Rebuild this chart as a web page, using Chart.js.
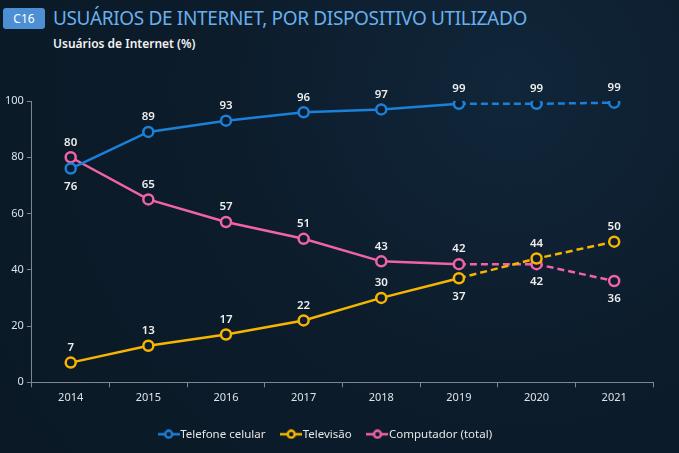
<!DOCTYPE html>
<html>
<head>
<meta charset="utf-8">
<script src="https://cdn.jsdelivr.net/npm/chart.js@4.4.0/dist/chart.umd.min.js"></script>
<style>
    html, body { margin: 0; padding: 0; }
    body {
        width: 679px; height: 453px; overflow: hidden; position: relative;
        background: radial-gradient(circle at 75% 20%, #11263a 0%, #0c1c2b 45%, #0a1925 100%);
        font-family: "Noto Sans", "Open Sans", sans-serif;
    }
    #badge {
        position: absolute; left: 3px; top: 8px; width: 42px; height: 21px;
        background: #4d8fd3; border-radius: 3px; color: #fff;
        font-size: 12px; line-height: 21px; text-align: center;
    }
    #title {
        position: absolute; left: 53px; top: 5px; color: #69b0ee;
        font-size: 19px; letter-spacing: -0.35px; white-space: nowrap;
    }
    #subtitle {
        position: absolute; left: 53px; top: 35px; color: #f2f2f2;
        font-size: 12px; font-weight: 600;
    }
    #wrap { position: absolute; left: 0; top: 0; width: 679px; height: 453px; }
</style>
</head>
<body>
<div id="badge">C16</div>
<div id="title">USUÁRIOS DE INTERNET, POR DISPOSITIVO UTILIZADO</div>
<div id="subtitle">Usuários de Internet (%)</div>
<div id="wrap"><canvas id="chart"></canvas></div>
<script>
// Data
const years = ['2014', '2015', '2016', '2017', '2018', '2019', '2020', '2021'];
const celular = [76, 89, 93, 96, 97, 99, 99, 99.4];
const televisao = [7, 13, 17, 22, 30, 37, 44, 50];
const computador = [80, 65, 57, 51, 43, 42, 42, 36];
const yTicks = [0, 20, 40, 60, 80, 100];

// Which side each value label goes on
const celularSide = ['below', 'above', 'above', 'above', 'above', 'above', 'above', 'above'];
const televisaoSide = ['above', 'above', 'above', 'above', 'above', 'below', 'above', 'above'];
const computadorSide = ['above', 'above', 'above', 'above', 'above', 'above', 'below', 'below'];

const DASH_FROM = 5; // segments after 2019 are dashed
const BLUE = '#1a80d9';
const AMBER = '#f7b500';
const PINK = '#f063a9';
const BG = '#0c1c2b';

// Legend marker: line with hollow circle
function legendMarker(color) {
    const c = document.createElement('canvas');
    c.width = 22; c.height = 10;
    const g = c.getContext('2d');
    g.strokeStyle = color;
    g.lineWidth = 2.5;
    g.beginPath(); g.moveTo(0, 5); g.lineTo(22, 5); g.stroke();
    g.fillStyle = BG;
    g.beginPath(); g.arc(11, 5, 3.5, 0, Math.PI * 2); g.fill(); g.stroke();
    return c;
}

function makeDataset(label, data, color, sides) {
    return {
        label: label,
        data: data,
        sides: sides,
        borderColor: color,
        backgroundColor: BG,
        borderWidth: 2.5,
        pointRadius: 5,
        pointBorderWidth: 2.5,
        pointBackgroundColor: BG,
        pointBorderColor: color,
        legendMarker: legendMarker(color),
        tension: 0,
        segment: {
            borderDash: ctx => ctx.p0DataIndex >= DASH_FROM ? [7, 4] : undefined
        }
    };
}

// Value labels plugin
const valueLabels = {
    id: 'valueLabels',
    afterDatasetsDraw(chart) {
        const ctx = chart.ctx;
        ctx.save();
        ctx.font = '600 11.5px "Noto Sans", sans-serif';
        ctx.fillStyle = '#eeeeee';
        ctx.textAlign = 'center';
        ctx.textBaseline = 'middle';
        chart.data.datasets.forEach((ds, i) => {
            const meta = chart.getDatasetMeta(i);
            meta.data.forEach((pt, j) => {
                const dy = ds.sides[j] === 'below' ? 18 : -15;
                ctx.fillText(Math.round(ds.data[j]), pt.x, pt.y + dy);
            });
        });
        ctx.restore();
    }
};

const chart = new Chart(document.getElementById('chart'), {
    type: 'line',
    data: {
        labels: years,
        datasets: [
            makeDataset('Telefone celular', celular, BLUE, celularSide),
            makeDataset('Televisão', televisao, AMBER, televisaoSide),
            makeDataset('Computador (total)', computador, PINK, computadorSide)
        ]
    },
    options: {
        responsive: true,
        maintainAspectRatio: false,
        animation: false,
        layout: { padding: { top: 101, right: 26, left: 2, bottom: 3 } },
        plugins: {
            tooltip: { enabled: false },
            legend: {
                position: 'bottom',
                labels: {
                    usePointStyle: true,
                    color: '#e6e6e6',
                    font: { size: 11.5, family: '"Noto Sans", sans-serif' },
                    padding: 20,
                    boxHeight: 10,
                    generateLabels: chart => chart.data.datasets.map((ds, i) => ({
                        text: ds.label,
                        pointStyle: ds.legendMarker,
                        fontColor: '#e6e6e6',
                        datasetIndex: i,
                        hidden: false,
                        lineWidth: 0
                    }))
                }
            }
        },
        scales: {
            x: {
                offset: true,
                grid: { drawOnChartArea: false, drawTicks: true, tickLength: 5, color: '#7c8791', offset: true },
                border: { color: '#7c8791' },
                ticks: { color: '#dde3e8', font: { size: 11, family: '"Noto Sans", sans-serif' }, padding: 4 }
            },
            y: {
                min: 0,
                max: 100,
                afterBuildTicks: axis => { axis.ticks = yTicks.map(v => ({ value: v })); },
                grid: { drawOnChartArea: false, drawTicks: true, tickLength: 5, color: '#7c8791' },
                border: { color: '#7c8791' },
                ticks: { color: '#dde3e8', font: { size: 11, family: '"Noto Sans", sans-serif' }, padding: 3 }
            }
        }
    },
    plugins: [valueLabels]
});
</script>
</body>
</html>
